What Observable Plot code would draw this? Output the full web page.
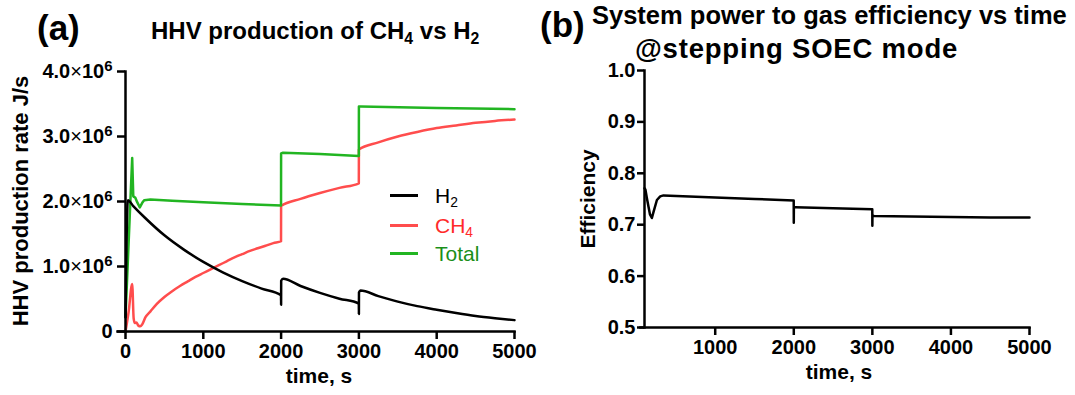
<!DOCTYPE html>
<html><head><meta charset="utf-8">
<script src="https://cdn.jsdelivr.net/npm/d3@7"></script>
<script src="https://cdn.jsdelivr.net/npm/@observablehq/plot@0.6"></script>
<style>
body{margin:0;background:#fff;font-family:"Liberation Sans",Arial,sans-serif;}
#wrap{position:relative;width:1075px;height:395px;overflow:hidden;background:#fff;}
.abs{position:absolute;white-space:nowrap;line-height:1;color:#000;}
.b{font-weight:bold;}
.panel{position:absolute;top:0;}
sub{font-size:0.66em;vertical-align:baseline;position:relative;top:0.3em;}
.rot{transform:translate(-50%,-50%) rotate(-90deg);}
.cx{transform:translate(-50%,-50%);}
.lg{position:absolute;height:3px;}
</style></head><body>
<div id="wrap">
  <div class="abs b" style="left:37px;top:10px;font-size:35px">(a)</div>
  <div class="abs b" style="left:151px;top:19px;font-size:24px">HHV production of CH<sub>4</sub> vs H<sub>2</sub></div>
  <div class="abs b" style="left:540px;top:7px;font-size:35px">(b)</div>
  <div class="abs b" style="left:592px;top:3px;font-size:25.5px">System power to gas efficiency vs time</div>
  <div class="abs b" style="left:635px;top:35px;font-size:27.5px;letter-spacing:0.8px">@stepping SOEC mode</div>
  <div class="abs b rot" style="left:21px;top:201px;font-size:22px">HHV production rate J/s</div>
  <div class="abs b cx" style="left:319px;top:375px;font-size:21px">time, s</div>
  <div class="abs b rot" style="left:587px;top:199px;font-size:21px">Efficiency</div>
  <div class="abs b cx" style="left:839px;top:371px;font-size:21px">time, s</div>
  <div id="pa" class="panel" style="left:0px"></div>
  <div id="pb" class="panel" style="left:537px"></div>
  <div class="lg" style="left:390px;top:194px;width:28px;background:#000"></div>
  <div class="abs" style="left:435px;top:185px;font-size:21px;color:#000">H<sub>2</sub></div>
  <div class="lg" style="left:390px;top:224px;width:28px;background:#ff4d4d"></div>
  <div class="abs" style="left:435px;top:215px;font-size:21px;color:#ff2a2a">CH<sub>4</sub></div>
  <div class="lg" style="left:390px;top:252px;width:28px;background:#22b522"></div>
  <div class="abs" style="left:435px;top:243px;font-size:21px;color:#1a8f1a">Total</div>
</div>
<script>
// Panel (a): HHV production rate, in units of 10^6 J/s, vs time (s)
const tH2 = [0, 30, 100, 250, 500, 750, 1000, 1250, 1500, 1750, 1999, 2000, 2001, 2025, 2250, 2500, 2750, 2999, 3000, 3001, 3020, 3250, 3500, 3750, 4000, 4250, 4500, 4750, 5000];
const vH2 = [0.22, 2.02, 1.93, 1.75, 1.48, 1.26, 1.07, 0.91, 0.775, 0.66, 0.56, 0.41, 0.78, 0.81, 0.70, 0.595, 0.505, 0.43, 0.27, 0.60, 0.63, 0.545, 0.46, 0.39, 0.335, 0.285, 0.24, 0.205, 0.175];

const tCH4 = [0, 40, 86, 105, 120, 140, 165, 190, 215, 257, 321, 400, 500, 600, 700, 800, 900, 1000, 1100, 1200, 1300, 1400, 1500, 1600, 1700, 1800, 1900, 1999, 2000, 2250, 2500, 2750, 2999, 3000, 3250, 3500, 3750, 4000, 4250, 4500, 4750, 5000];
const vCH4 = [0, 0.30, 0.73, 0.20, 0.13, 0.14, 0.09, 0.08, 0.11, 0.22, 0.31, 0.42, 0.53, 0.62, 0.70, 0.77, 0.84, 0.90, 0.96, 1.02, 1.08, 1.14, 1.19, 1.24, 1.28, 1.32, 1.36, 1.39, 1.93, 2.04, 2.13, 2.21, 2.28, 2.80, 2.91, 3.00, 3.07, 3.13, 3.17, 3.21, 3.24, 3.26];

const tTotal = [0, 86, 100, 110, 125, 150, 184, 215, 240, 320, 600, 1000, 1500, 1999, 2000, 2025, 2500, 2999, 3000, 3025, 4000, 5000];
const vTotal = [0.22, 2.67, 2.08, 2.07, 2.06, 1.99, 1.91, 1.98, 2.02, 2.03, 2.01, 1.99, 1.96, 1.94, 2.74, 2.75, 2.73, 2.70, 3.46, 3.46, 3.44, 3.42];

// Panel (b): system power-to-gas efficiency vs time (s)
const tEff = [100, 112, 130, 151, 170, 194, 215, 258, 300, 342, 1000, 1500, 1999, 2000, 2001, 2020, 2500, 2999, 3000, 3001, 3020, 3500, 4000, 4500, 5000];
const vEff = [0.771, 0.768, 0.752, 0.735, 0.72, 0.713, 0.725, 0.748, 0.755, 0.757, 0.753, 0.750, 0.747, 0.704, 0.734, 0.734, 0.732, 0.730, 0.698, 0.718, 0.717, 0.716, 0.715, 0.714, 0.714];

const xTicksA = [0, 1000, 2000, 3000, 4000, 5000];
const yTicksA = [0, 1, 2, 3, 4];
const xTicksB = [1000, 2000, 3000, 4000, 5000];
const yTicksB = [0.5, 0.6, 0.7, 0.8, 0.9, 1.0];

const zip = (ts, vs) => ts.map((t, i) => ({t, v: vs[i]}));
const FONT = "Liberation Sans, Arial, sans-serif";

const plotA = Plot.plot({
  width: 537, height: 395,
  marginLeft: 125, marginRight: 23, marginTop: 71, marginBottom: 64,
  style: {fontFamily: FONT, background: "transparent", overflow: "visible"},
  x: {domain: [0, 5000]},
  y: {domain: [0, 4]},
  marks: [
    Plot.line(zip(tCH4, vCH4), {x: "t", y: "v", stroke: "#ff4d4d", strokeWidth: 2.5, curve: "monotone-x"}),
    Plot.line(zip(tTotal, vTotal), {x: "t", y: "v", stroke: "#22b522", strokeWidth: 2.5}),
    Plot.line(zip(tH2, vH2), {x: "t", y: "v", stroke: "#000", strokeWidth: 2.5, curve: "monotone-x"}),
    Plot.axisX({ticks: xTicksA, tickSize: 8, tickPadding: 4, fontSize: 20, fontWeight: "bold", strokeWidth: 2.5, label: null, tickFormat: d => String(d)}),
    Plot.axisY({ticks: yTicksA, tickSize: 8, tickPadding: 5, fontSize: 20, fontWeight: "bold", strokeWidth: 2.5, label: null,
      tickFormat: d => d === 0 ? "0" : `${d.toFixed(1)}×10^6`}),
    Plot.frame({anchor: "left", strokeWidth: 2.5}),
    Plot.frame({anchor: "bottom", strokeWidth: 2.5, insetLeft: -8})
  ]
});

const plotB = Plot.plot({
  width: 538, height: 395,
  marginLeft: 107, marginRight: 46, marginTop: 70, marginBottom: 68,
  style: {fontFamily: FONT, background: "transparent", overflow: "visible"},
  x: {domain: [100, 5000]},
  y: {domain: [0.5, 1.0]},
  marks: [
    Plot.line(zip(tEff, vEff), {x: "t", y: "v", stroke: "#000", strokeWidth: 2.5}),
    Plot.axisX({ticks: xTicksB, tickSize: 8, tickPadding: 4, fontSize: 20, fontWeight: "bold", strokeWidth: 2.5, label: null, tickFormat: d => String(d)}),
    Plot.axisY({ticks: yTicksB, tickSize: 7, tickPadding: 2, fontSize: 20, fontWeight: "bold", strokeWidth: 2.5, label: null, tickFormat: d => d.toFixed(1)}),
    Plot.frame({anchor: "left", strokeWidth: 2.5}),
    Plot.frame({anchor: "bottom", strokeWidth: 2.5, insetLeft: -4})
  ]
});

// Render "×10^6" with a real superscript
d3.select(plotA).selectAll('g[aria-label="y-axis tick label"] text').each(function() {
  const s = this.textContent;
  if (!s.includes("^")) return;
  const [base, exp] = s.split("^");
  const [num, ten] = base.split("×");
  const el = d3.select(this);
  el.text(num);
  el.append("tspan").attr("font-weight", "normal").text("×");
  el.append("tspan").text(ten);
  el.append("tspan").attr("dy", "-0.45em").attr("font-size", "0.75em").text(exp);
});

document.getElementById("pa").appendChild(plotA);
document.getElementById("pb").appendChild(plotB);
</script>
</body></html>
